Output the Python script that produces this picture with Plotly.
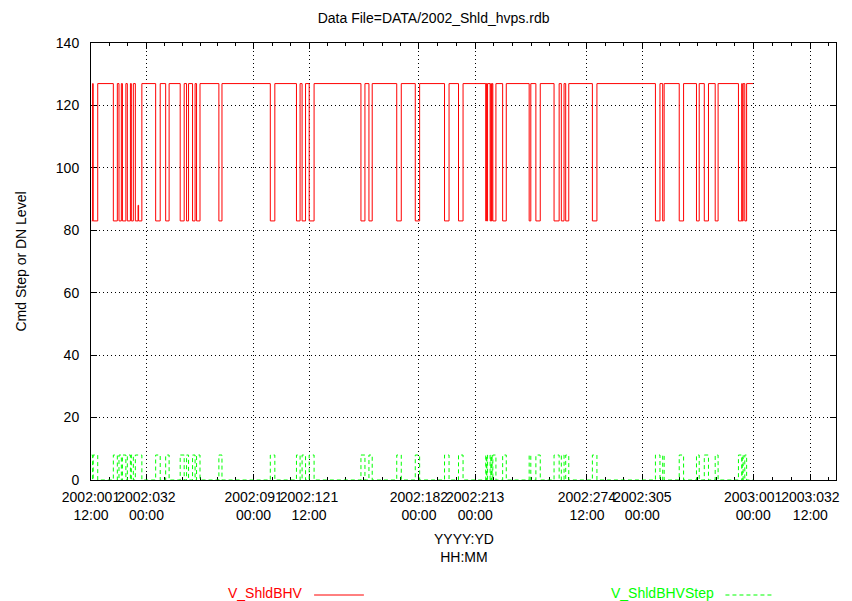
import plotly.graph_objects as go

# ---------------- data (days since 2002:001 00:00) ----------------
X_TICK_DAYS = [0.5, 31, 90, 120.5, 181, 212, 273.5, 304, 365, 396.5]
X_TICK_LABELS = ["2002:001<br>12:00", "2002:032<br>00:00", "2002:091<br>00:00",
                 "2002:121<br>12:00", "2002:182<br>00:00", "2002:213<br>00:00",
                 "2002:274<br>12:00", "2002:305<br>00:00", "2003:001<br>00:00",
                 "2003:032<br>12:00"]
Y_TICKS = [0, 20, 40, 60, 80, 100, 120, 140]

SERIES_START = 0.9
FIRST_RISE = 1.4
SERIES_END = 364.9

# intervals where V_ShldBHV is at its low level (and the step command is on)
LOW_STARTS = [1.7, 12.8, 15.9, 17.8, 20.5, 22.7, 24.9, 36.1, 41.6, 49.6, 53.1, 56.4,
              58.6, 70.9, 99.2, 113.6, 116.7, 120.6, 149.1, 153.5, 168.8, 179.0,
              195.1, 202.8, 217.8, 218.4, 220.2, 220.9, 221.7, 227.1, 241.7, 245.4,
              255.4, 259.4, 261.8, 276.5, 311.2, 315.2, 324.3, 333.8, 338.1, 344.1,
              356.9, 359.0, 360.4]
LOW_ENDS = [4.2, 15.0, 17.2, 19.7, 22.2, 23.8, 28.5, 38.6, 43.5, 51.8, 54.2, 57.8,
            60.5, 72.6, 101.7, 115.6, 118.6, 123.3, 151.3, 155.3, 171.3, 181.4,
            197.6, 205.3, 218.1, 218.8, 220.6, 221.3, 223.4, 229.1, 242.6, 247.8,
            258.2, 260.9, 263.5, 279.0, 313.7, 316.0, 326.7, 335.3, 340.4, 345.7,
            358.7, 359.5, 361.4]

HV_HIGH = 127
HV_LOW = 83
BLIP_START, BLIP_END, BLIP_VALUE = 26.4, 26.7, 88

STEP_ON = 8
STEP_OFF = 0

# ---------------- build step series ----------------
red_x = [SERIES_START, FIRST_RISE]
red_y = [HV_LOW, HV_HIGH]
grn_x = [SERIES_START, FIRST_RISE]
grn_y = [STEP_ON, STEP_OFF]
for s, e in zip(LOW_STARTS, LOW_ENDS):
    red_x.append(s); red_y.append(HV_LOW)
    if s < BLIP_START < e:
        red_x += [BLIP_START, BLIP_END]; red_y += [BLIP_VALUE, HV_LOW]
    red_x.append(e); red_y.append(HV_HIGH)
    grn_x += [s, e]; grn_y += [STEP_ON, STEP_OFF]
red_x.append(SERIES_END); red_y.append(HV_HIGH)
grn_x.append(SERIES_END); grn_y.append(STEP_OFF)

# minor ticks: subdivide each major interval
minor_vals = []
for a, b in zip(X_TICK_DAYS[:-1], X_TICK_DAYS[1:]):
    n = 3 if (b - a) < 40 else 6
    minor_vals += [a + (b - a) * k / n for k in range(1, n)]
minor_vals.append(X_TICK_DAYS[-1] + (X_TICK_DAYS[1] - X_TICK_DAYS[0]) / 3)

FONT = "Liberation Sans, Arial, Helvetica, sans-serif"

fig = go.Figure()
fig.add_trace(go.Scatter(x=red_x, y=red_y, mode="lines", line_shape="hv",
                         line=dict(color="#ff0000", width=1), name="V_ShldBHV",
                         showlegend=False))
fig.add_trace(go.Scatter(x=grn_x, y=grn_y, mode="lines", line_shape="hv",
                         line=dict(color="#00ff00", width=1, dash="4px,3px"),
                         name="V_ShldBHVStep", showlegend=False))

L, R, T, B = 91, 13, 43, 121
W, H = 852, 601
pw = W - L - R
ph = H - T - B

axis_common = dict(
    ticks="inside", ticklen=6, tickcolor="black", tickwidth=1,
    showline=True, linecolor="black", linewidth=1, mirror="ticks",
    showgrid=True, gridcolor="black", griddash="1px,3px", gridwidth=1,
    zeroline=False, tickfont=dict(family=FONT, size=14, color="black"),
    layer="below traces",
)

fig.update_layout(
    width=W, height=H,
    margin=dict(l=L, r=R, t=T, b=B),
    paper_bgcolor="white", plot_bgcolor="white",
    font=dict(family=FONT, size=14, color="black"),
    title=dict(text="Data File=DATA/2002_Shld_hvps.rdb", x=(435 - L) / pw,
               xref="paper", xanchor="center", y=1 - 18 / H, yref="container",
               yanchor="middle", font=dict(family=FONT, size=14, color="black")),
    xaxis=dict(range=[0.5, 410.6], tickmode="array", tickvals=X_TICK_DAYS,
               ticktext=X_TICK_LABELS, ticklabelstandoff=4, tickangle=0,
               minor=dict(tickmode="array", tickvals=minor_vals, ticks="inside",
                          ticklen=3, tickcolor="black", showgrid=False),
               **axis_common),
    yaxis=dict(range=[0, 140], tickmode="array", tickvals=Y_TICKS,
               ticklabelstandoff=8, **axis_common),
    showlegend=False,
)

# axis titles
fig.add_annotation(text="YYYY:YD<br>HH:MM", xref="paper", yref="paper", x=0.5, y=0,
                   yshift=-(529 - 480), xanchor="center", yanchor="top",
                   showarrow=False, font=dict(family=FONT, size=14, color="black"))
fig.add_annotation(text="Cmd Step or DN Level", xref="paper", yref="paper", x=0, y=0.5,
                   xshift=-(L - 20), xanchor="center", yanchor="middle", textangle=-90,
                   showarrow=False, font=dict(family=FONT, size=14, color="black"))

# legend (text followed by line sample)
leg_y = -(593 - 480) / ph
fig.add_annotation(text="V_ShldBHV", xref="paper", yref="paper", x=(305 - L) / pw,
                   y=leg_y, xanchor="right", yanchor="middle", showarrow=False,
                   borderpad=0, font=dict(family=FONT, size=14, color="#ff0000"))
fig.add_shape(type="line", xref="paper", yref="paper", x0=(315 - L) / pw,
              x1=(365 - L) / pw, y0=-(595 - 480) / ph, y1=-(595 - 480) / ph,
              line=dict(color="#ff0000", width=1))
fig.add_annotation(text="V_ShldBHVStep", xref="paper", yref="paper", x=(718 - L) / pw,
                   y=leg_y, xanchor="right", yanchor="middle", showarrow=False,
                   borderpad=0, font=dict(family=FONT, size=14, color="#00ff00"))
fig.add_shape(type="line", xref="paper", yref="paper", x0=(728 - L) / pw,
              x1=(775 - L) / pw, y0=-(595 - 480) / ph, y1=-(595 - 480) / ph,
              line=dict(color="#00ff00", width=1, dash="4px,3px"))

fig.write_html("out.html")
